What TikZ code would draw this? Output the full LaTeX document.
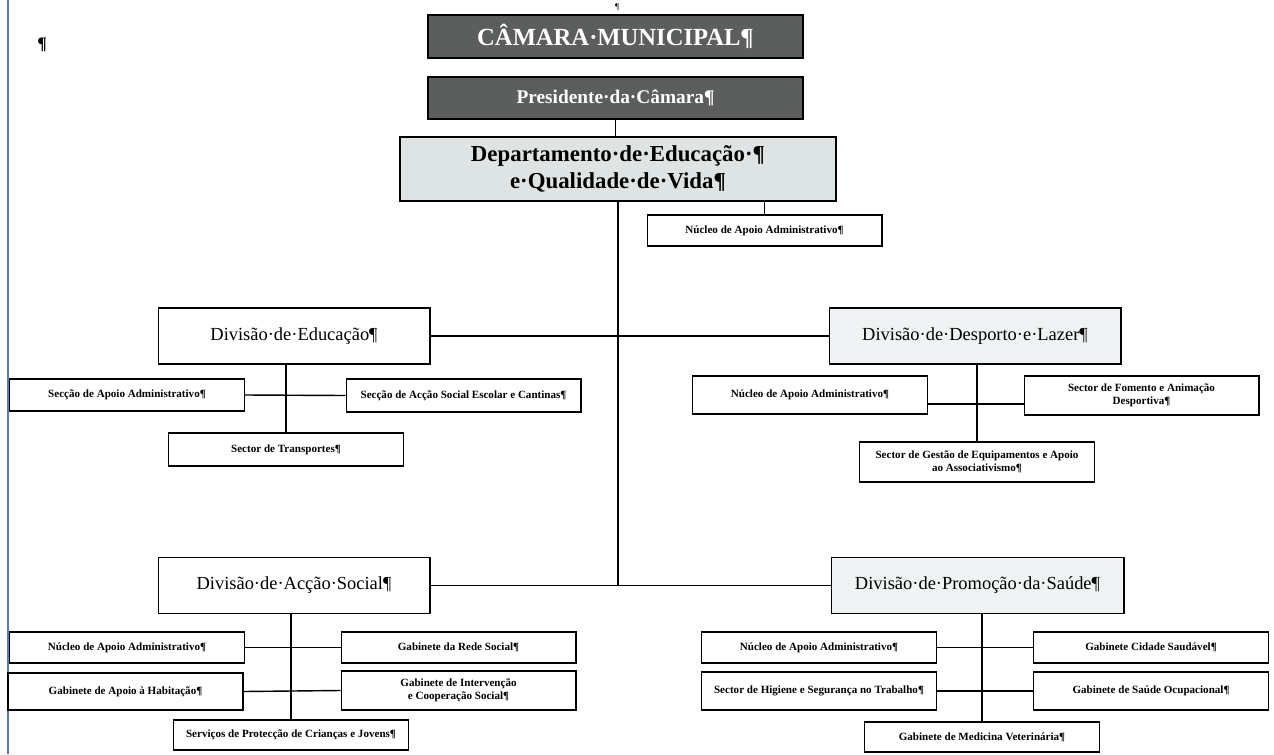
\documentclass[tikz,border=0pt]{standalone}
\usepackage{fontspec}
\setmainfont{Liberation Serif}
\usepackage{tikz}

\definecolor{darkbox}{RGB}{92,94,94}
\definecolor{lightbox}{RGB}{222,228,228}
\definecolor{paledivision}{RGB}{240,243,243}
\definecolor{marginblue}{RGB}{90,120,200}

\begin{document}
\begin{tikzpicture}[x=0.02cm, y=-0.02cm,
  box/.style={draw=black, line width=0.6pt, fill=white, inner sep=1pt, align=center},
  topbox/.style={box, fill=darkbox, text=white, line width=1.4pt, font=\bfseries},
  divbox/.style={box, minimum width=5.44cm, minimum height=1.12cm, font=\fontsize{10.5}{12}\selectfont},
  unitbox/.style={box, minimum width=4.7cm, font=\fontsize{6.3}{7.3}\selectfont\bfseries},
  link/.style={draw=black, line width=0.8pt}]
\useasboundingbox (0,0) rectangle (1274,754);

 \draw[color=marginblue, line width=0.7pt] (8,0) -- (8,754);
 \node (mark1) at (42,45) {\bfseries ¶};
 \node[font=\tiny] (mark2) at (617,7) {¶};

 \node[topbox, minimum width=7.5cm, minimum height=0.86cm, font=\fontsize{14}{16}\selectfont\bfseries] (cam) at (615.5,36.5) {CÂMARA·MUNICIPAL¶};
 \node[topbox, minimum width=7.5cm, minimum height=0.84cm, font=\fontsize{11}{13}\selectfont\bfseries] (pres) at (615.5,98) {Presidente·da·Câmara¶};
 \node[box, fill=lightbox, line width=1.2pt, minimum width=8.72cm, minimum height=1.28cm, font=\fontsize{13}{15}\selectfont\bfseries] (dep) at (618,169) {Departamento·de·Educação·¶\\e·Qualidade·de·Vida¶};
 \node[unitbox, minimum height=0.62cm] (nucdep) at (764.5,230.5) {Núcleo de Apoio Administrativo¶};

 \node[divbox] (edu) at (294,336) {Divisão·de·Educação¶};
 \node[divbox, fill=paledivision, minimum width=5.84cm] (des) at (975,336) {Divisão·de·Desporto·e·Lazer¶};
 \node[divbox] (soc) at (294,585.5) {Divisão·de·Acção·Social¶};
 \node[divbox, fill=paledivision, minimum width=5.86cm] (sau) at (977.5,585.5) {Divisão·de·Promoção·da·Saúde¶};

 \node[unitbox, minimum height=0.64cm] (secapoio) at (127,395) {Secção de Apoio Administrativo¶};
 \node[unitbox, minimum height=0.66cm] (secase) at (463.5,395.5) {Secção de Acção Social Escolar e Cantinas¶};
 \node[unitbox, minimum height=0.66cm, line width=1pt] (sectrans) at (286,449.5) {Sector de Transportes¶};

 \node[unitbox, minimum height=0.76cm] (nucdes) at (810,395) {Núcleo de Apoio Administrativo¶};
 \node[unitbox, minimum height=0.78cm] (fomento) at (1141.5,395.5) {Sector de Fomento e Animação\\Desportiva¶};
 \node[unitbox, minimum height=0.8cm] (gestao) at (977,462) {Sector de Gestão de Equipamentos e Apoio\\ao Associativismo¶};

 \node[unitbox, minimum height=0.62cm] (nucsoc) at (127,647.5) {Núcleo de Apoio Administrativo¶};
 \node[unitbox, minimum height=0.62cm] (rede) at (458.5,647.5) {Gabinete da Rede Social¶};
 \node[unitbox, minimum height=0.74cm] (habit) at (125.5,691.5) {Gabinete de Apoio à Habitação¶};
 \node[unitbox, minimum height=0.78cm] (interv) at (458.5,690.5) {Gabinete de Intervenção\\e Cooperação Social¶};
 \node[unitbox, minimum height=0.6cm] (protec) at (291,735) {Serviços de Protecção de Crianças e Jovens¶};

 \node[unitbox, minimum height=0.62cm] (nucsau) at (819,647.5) {Núcleo de Apoio Administrativo¶};
 \node[unitbox, minimum height=0.62cm] (cidade) at (1151,647.5) {Gabinete Cidade Saudável¶};
 \node[unitbox, minimum height=0.76cm] (higiene) at (819,691) {Sector de Higiene e Segurança no Trabalho¶};
 \node[unitbox, minimum height=0.76cm] (ocup) at (1151,691) {Gabinete de Saúde Ocupacional¶};
 \node[unitbox, minimum height=0.6cm] (vet) at (982,737) {Gabinete de Medicina Veterinária¶};

 \coordinate (trunk) at (dep.south |- soc.east);

 \draw[link] (pres.south) -- (pres.south |- dep.north);
 \draw[link] (dep.south) -- (trunk);
 \draw[link] (nucdep.north |- dep.south) -- (nucdep.north);
 \draw[link] (edu.east) -- (des.west);
 \draw[link] (soc.east) -- (sau.west);

 \draw[link] (sectrans.north |- edu.south) -- (sectrans.north);
 \draw[link] (secapoio.east) -- (secase.west);
 \draw[link] (gestao.north |- des.south) -- (gestao.north);
 \draw[link] ([yshift=-0.18cm]nucdes.east) -- ([yshift=-0.18cm]nucdes.east -| fomento.west);

 \draw[link] (protec.north |- soc.south) -- (protec.north);
 \draw[link] (nucsoc.east) -- (rede.west);
 \draw[link] (habit.east) -- (interv.west);
 \draw[link] (vet.north |- sau.south) -- (vet.north);
 \draw[link] (nucsau.east) -- (cidade.west);
 \draw[link] (higiene.east) -- (ocup.west);
\end{tikzpicture}
\end{document}
